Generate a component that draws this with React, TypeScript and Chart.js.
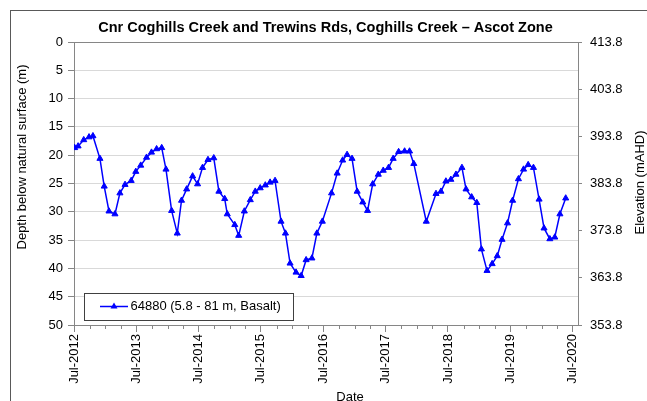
import React, { useEffect, useRef } from 'react';
import { Chart, registerables } from 'chart.js';

Chart.register(...registerables);

const TITLE = 'Cnr Coghills Creek and Trewins Rds, Coghills Creek – Ascot Zone';
const SERIES_LABEL = '64880 (5.8 - 81 m, Basalt)';
const Y_TITLE = 'Depth below natural surface (m)';
const Y2_TITLE = 'Elevation (mAHD)';
const X_TITLE = 'Date';

const DATES = [
  '2012-07-05', '2012-07-25', '2012-08-27', '2012-09-27', '2012-10-20', '2012-11-30', '2012-12-25',
  '2013-01-22', '2013-02-26', '2013-03-27', '2013-04-26', '2013-06-01', '2013-06-28', '2013-07-27',
  '2013-08-30', '2013-09-28', '2013-10-28', '2013-11-27', '2013-12-22',
  '2014-01-24', '2014-02-26', '2014-03-23', '2014-04-22', '2014-05-27', '2014-06-25', '2014-07-24',
  '2014-08-25', '2014-09-28', '2014-10-28', '2014-12-01', '2014-12-16',
  '2015-01-29', '2015-02-21', '2015-03-26', '2015-04-30', '2015-05-29', '2015-06-27', '2015-07-27',
  '2015-08-24', '2015-09-22', '2015-10-27', '2015-11-22', '2015-12-19',
  '2016-01-23', '2016-02-22', '2016-03-22', '2016-04-25', '2016-05-24', '2016-06-25', '2016-08-18',
  '2016-09-20', '2016-10-22', '2016-11-17', '2016-12-16',
  '2017-01-15', '2017-02-17', '2017-03-17', '2017-04-16', '2017-05-19', '2017-06-17', '2017-07-18',
  '2017-08-14', '2017-09-15', '2017-10-20', '2017-11-18', '2017-12-13',
  '2018-02-24', '2018-04-22', '2018-05-21', '2018-06-19', '2018-07-18', '2018-08-17', '2018-09-21',
  '2018-10-15', '2018-11-17', '2018-12-17',
  '2019-01-13', '2019-02-15', '2019-03-17', '2019-04-16', '2019-05-14', '2019-06-15', '2019-07-15',
  '2019-08-18', '2019-09-17', '2019-10-14', '2019-11-14', '2019-12-17',
  '2020-01-15', '2020-02-18', '2020-03-18', '2020-04-17', '2020-05-21',
];

const DEPTHS = [
  18.7, 18.4, 17.3, 16.8, 16.6, 20.6, 25.5,
  29.9, 30.4, 26.7, 25.2, 24.5, 22.9, 21.8,
  20.4, 19.5, 18.9, 18.7, 22.5,
  29.8, 33.8, 28.0, 26.0, 23.7, 25.1, 22.2,
  20.8, 20.5, 26.4, 27.7, 30.4,
  32.3, 34.2, 29.9, 27.9, 26.4, 25.8, 25.3,
  24.8, 24.5, 31.7, 33.8, 39.1,
  40.7, 41.3, 38.5, 38.2, 33.8, 31.7, 26.7,
  23.2, 20.9, 19.9, 20.6,
  26.4, 28.3, 29.8, 25.1, 23.4, 22.7, 22.2,
  20.6, 19.4, 19.3, 19.3, 21.5,
  31.7, 26.8, 26.4, 24.6, 24.3, 23.4, 22.2,
  26.0, 27.4, 28.4,
  36.6, 40.4, 39.2, 37.8, 34.9, 32.0, 28.0,
  24.2, 22.5, 21.7, 22.2, 27.8,
  32.9, 34.8, 34.5, 30.4, 27.6,
];

const DEPTH_TICKS = [0, 5, 10, 15, 20, 25, 30, 35, 40, 45, 50];
const ELEV_TICKS = [353.8, 363.8, 373.8, 383.8, 393.8, 403.8, 413.8];
const X_TICK_DATES = ['2012-07-01', '2013-07-01', '2014-07-01', '2015-07-01', '2016-07-01', '2017-07-01', '2018-07-01', '2019-07-01', '2020-07-01'];
const X_TICK_LABELS = ['Jul-2012', 'Jul-2013', 'Jul-2014', 'Jul-2015', 'Jul-2016', 'Jul-2017', 'Jul-2018', 'Jul-2019', 'Jul-2020'];
const X_MIN = '2012-07-01';
const X_MAX = '2020-08-01';

const FONT = '"Liberation Sans", Arial, Helvetica, sans-serif';
const AXIS_COLOR = '#868686';
const GRID_COLOR = '#d9d9d9';
const LINE_COLOR = '#0000ff';

const ms = (s: string) => new Date(s + 'T00:00:00Z').getTime();

const decorPlugin = {
  id: 'decor',
  beforeDraw(chart: any) {
    const ctx = chart.ctx;
    ctx.save();
    ctx.fillStyle = '#ffffff';
    ctx.fillRect(0, 0, chart.width, chart.height);
    ctx.strokeStyle = '#595959';
    ctx.lineWidth = 1;
    ctx.strokeRect(10.5, 10.5, chart.width + 40, chart.height + 40);
    ctx.restore();
  },
  afterDatasetsDraw(chart: any) {
    const ctx = chart.ctx;
    ctx.save();
    ctx.fillStyle = '#ffffff';
    ctx.fillRect(84.5, 293.5, 209, 27);
    ctx.strokeStyle = '#404040';
    ctx.lineWidth = 1;
    ctx.strokeRect(84.5, 293.5, 209, 27);
    const ly = 306.5;
    ctx.strokeStyle = LINE_COLOR;
    ctx.lineWidth = 1.5;
    ctx.beginPath();
    ctx.moveTo(100, ly);
    ctx.lineTo(128, ly);
    ctx.stroke();
    ctx.fillStyle = LINE_COLOR;
    const r = 3.5;
    ctx.beginPath();
    ctx.moveTo(114, ly - r * 1.15);
    ctx.lineTo(114 - r, ly + r * 0.6);
    ctx.lineTo(114 + r, ly + r * 0.6);
    ctx.closePath();
    ctx.fill();
    ctx.fillStyle = '#000000';
    ctx.font = `13px ${FONT}`;
    ctx.textAlign = 'left';
    ctx.textBaseline = 'middle';
    ctx.fillText(chart.data.datasets[0].label, 130.5, ly);
    ctx.restore();
  },
  afterDraw(chart: any) {
    const ctx = chart.ctx;
    const xs = chart.scales.x;
    ctx.save();
    ctx.strokeStyle = AXIS_COLOR;
    ctx.lineWidth = 1;
    const minD = new Date(ms(X_MIN));
    const maxV = ms(X_MAX);
    let y = minD.getUTCFullYear();
    let m = minD.getUTCMonth();
    while (true) {
      const v = Date.UTC(y, m, 1);
      if (v > maxV) break;
      if (m !== 6) {
        const px = Math.round(xs.getPixelForValue(v)) + 0.5;
        ctx.beginPath();
        ctx.moveTo(px, chart.chartArea.bottom);
        ctx.lineTo(px, chart.chartArea.bottom + 4);
        ctx.stroke();
      }
      m += 3;
      if (m > 11) { m -= 12; y += 1; }
    }
    ctx.fillStyle = '#000000';
    ctx.font = `bold 14.5px ${FONT}`;
    ctx.textAlign = 'center';
    ctx.textBaseline = 'alphabetic';
    ctx.fillText(TITLE, 325.5, 31.5);

    ctx.font = `13px ${FONT}`;
    ctx.fillText(X_TITLE, 350, 400.5);

    ctx.textBaseline = 'middle';
    ctx.save();
    ctx.translate(22, 157);
    ctx.rotate(-Math.PI / 2);
    ctx.fillText(Y_TITLE, 0, 0);
    ctx.restore();

    ctx.save();
    ctx.translate(640, 182.5);
    ctx.rotate(-Math.PI / 2);
    ctx.fillText(Y2_TITLE, 0, 0);
    ctx.restore();
    ctx.restore();
  },
};

export default function App() {
  const canvasRef = useRef<HTMLCanvasElement | null>(null);

  useEffect(() => {
    if (!canvasRef.current) return;
    const points = DATES.map((d, i) => ({ x: ms(d), y: DEPTHS[i] }));
    const chart = new Chart(canvasRef.current, {
      type: 'line',
      data: {
        datasets: [
          {
            label: SERIES_LABEL,
            data: points,
            borderColor: LINE_COLOR,
            backgroundColor: LINE_COLOR,
            borderWidth: 1.5,
            pointStyle: 'triangle',
            pointRadius: 3.5,
            pointBackgroundColor: LINE_COLOR,
            pointBorderColor: LINE_COLOR,
            pointBorderWidth: 1,
            tension: 0,
            fill: false,
            yAxisID: 'y',
          },
        ],
      },
      options: {
        animation: false,
        responsive: true,
        maintainAspectRatio: false,
        layout: { padding: { top: 42, left: 0, right: 0, bottom: 0 } },
        plugins: {
          legend: { display: false },
          title: { display: false },
          tooltip: { enabled: false },
        },
        scales: {
          x: {
            type: 'linear',
            position: 'bottom',
            min: ms(X_MIN),
            max: ms(X_MAX),
            afterBuildTicks: (scale: any) => {
              scale.ticks = X_TICK_DATES.map((d) => ({ value: ms(d) }));
            },
            afterFit: (scale: any) => {
              scale.height = 76;
            },
            ticks: {
              autoSkip: false,
              minRotation: 90,
              maxRotation: 90,
              padding: 2,
              color: '#000000',
              font: { family: FONT, size: 13 },
              callback: (_v: any, i: number) => X_TICK_LABELS[i],
            },
            grid: {
              drawOnChartArea: false,
              drawTicks: true,
              tickLength: 7,
              tickColor: AXIS_COLOR,
            },
            border: { display: true, color: AXIS_COLOR, width: 1 },
          },
          y: {
            type: 'linear',
            position: 'left',
            reverse: true,
            min: 0,
            max: 50,
            afterBuildTicks: (scale: any) => {
              scale.ticks = DEPTH_TICKS.map((v) => ({ value: v }));
            },
            afterFit: (scale: any) => {
              scale.width = 74;
            },
            ticks: {
              padding: 5,
              color: '#000000',
              font: { family: FONT, size: 13 },
              callback: (v: any) => String(v),
            },
            grid: {
              color: (c: any) => (c.tick && c.tick.value === 0 ? AXIS_COLOR : GRID_COLOR),
              tickColor: AXIS_COLOR,
              tickLength: 6,
              drawTicks: true,
            },
            border: { display: true, color: AXIS_COLOR, width: 1 },
          },
          y2: {
            type: 'linear',
            position: 'right',
            min: 353.8,
            max: 413.8,
            afterBuildTicks: (scale: any) => {
              scale.ticks = ELEV_TICKS.map((v) => ({ value: v }));
            },
            afterFit: (scale: any) => {
              scale.width = 69;
            },
            ticks: {
              padding: 8,
              color: '#000000',
              font: { family: FONT, size: 13 },
              callback: (v: any) => Number(v).toFixed(1),
            },
            grid: {
              drawOnChartArea: false,
              tickColor: AXIS_COLOR,
              tickLength: 4,
              drawTicks: true,
            },
            border: { display: true, color: AXIS_COLOR, width: 1 },
          },
        },
      },
      plugins: [decorPlugin],
    } as any);
    return () => chart.destroy();
  }, []);

  return (
    <div style={{ position: 'absolute', left: 0, top: 0, width: 647, height: 401, background: '#fff' }}>
      <canvas ref={canvasRef} />
    </div>
  );
}
